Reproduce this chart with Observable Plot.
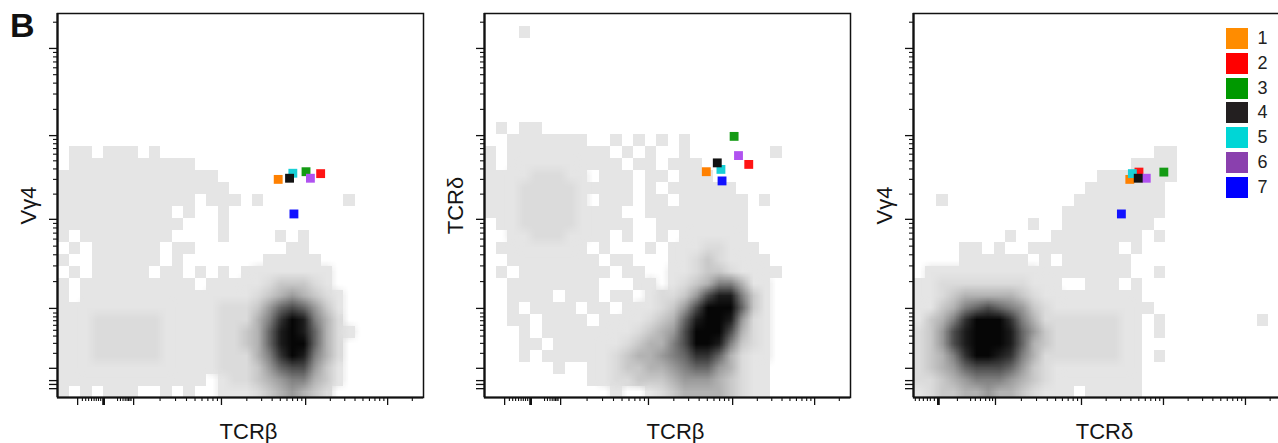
<!DOCTYPE html>
<html><head><meta charset="utf-8">
<script src="https://cdn.jsdelivr.net/npm/d3@7"></script>
<script src="https://cdn.jsdelivr.net/npm/@observablehq/plot@0.6"></script>
<style>
html,body{margin:0;padding:0;background:#fff;overflow:hidden;}
#root{position:relative;width:1278px;height:443px;overflow:hidden;font-family:'Liberation Sans',Arial,Helvetica,sans-serif;}
.panel{position:absolute;top:0;}
#tag{position:absolute;left:10px;top:8px;font-size:34px;font-weight:bold;line-height:34px;color:#111;}
#legend{position:absolute;left:1226px;top:28px;}
.item{display:flex;align-items:center;height:21px;margin-bottom:3.8px;}
.sw{width:21.5px;height:21px;}
.lab{margin-left:10px;font-size:18px;color:#222;line-height:21px;}
</style></head><body><div id="root"><div id="tag">B</div></div>
<script>
// ---- data ----
const panelLetter = "B";
const clusters = ["1","2","3","4","5","6","7"];
const markerColors = ["#ff8000","#ff1414","#149b14","#121212","#18d0d6","#b052f0","#1212ff"];
const legendColors = ["#ff8c00","#ff0000","#009900","#231f20","#00d6d6","#8a40ae","#0000ff"];
const drawOrder = [1,2,3,5,6,7,4];

const xLabels = ["TCRβ","TCRβ","TCRδ"];
const yLabels = ["Vγ4","TCRδ","Vγ4"];

// marker positions in display channels (0-1000) per cluster 1..7
const panel1X = [603, 719, 679, 634, 643, 691, 646];
const panel1Y = [568, 583, 588, 571, 584, 571, 478];
const panel2X = [606, 722, 682, 636, 646, 694, 649];
const panel2Y = [588, 607, 680, 611, 594, 630, 564];
const panel3X = [591, 616, 684, 614, 598, 636, 568];
const panel3Y = [568, 587, 587, 571, 583, 571, 478];

// axis tick positions in display channels
const tcrbMajorTicks = [55, 126, 208, 448, 678, 902];
const tcrbDecades = [208, 448, 678, 902];
const tcrbLowTicks = [68, 77, 85, 93, 100, 106, 112, 118, 164, 172, 179, 185, 190, 194, 198, 201];
const tcrbZero = 126;
const tcrdMajorTicks = [68, 224, 459, 683, 907];
const tcrdDecades = [224, 459, 683, 907];
const tcrdLowTicks = [5, 16, 27, 38, 46, 57, 120, 156, 169, 183, 197, 208, 216];
const tcrdZero = 68;
const yMajorTicks = [23, 34, 44, 76, 232, 464, 682, 909];
const yDecades = [232, 464, 682, 909];
const yLowTicks = [115, 141, 160, 175, 188, 200, 210, 220];

// density grids (32 x 32, top row first); ' ' empty, '.' low ... '9' highest
const levelChars = " .:123456789";
const levelGrays = ["#ffffff","#e5e5e5","#dbdbdb","#c8c8c8","#b2b2b2","#9a9a9a","#808080","#666666","#4c4c4c","#333333","#1c1c1c","#060606"];

const density1 = [
 "","","","","","","","","","","",
 " .. ... " + ".",
 " ......." + "....",
 "........" + "......",
 "........" + ".......",
 "........" + ".... ..." + " .      " + " .",
 "........" + ".. .  . ",
 "........" + "...   . ",
 ". ......" + "..    . " + "   . .  ",
 " . ....." + ". ..    " + "    ..  ",
 ".  ....." + ". .     " + "  ..... ",
 " . ....." + " .. . . " + "........",
 ". ......" + ".... ..." + "..:111:.",
 ". ......" + "........" + ".:12321:" + ".",
 "........" + "......::" + ":1356531" + ".",
 "...:::::" + ":.....::" + ":2479842" + ":",
 "...:::::" + ":.....::" + "12589852" + ":.",
 "...:::::" + ":.....::" + "12589952" + ":",
 "...:::::" + ":.....::" + ":2479842" + ":",
 "........" + "......::" + ":1356631" + ".",
 "........" + "..... .:" + ":1234421" + ".",
 ". . ... " + " . .  .." + ".:12321:"
];

const density2 = [
 "",
 "   .",
 "","","","","","","",
 " . ..",
 "  ......" + ".  . . ." + " .",
 ". ......" + "... . . " + " .      " + " .",
 ". ......" + ".... .. " + "...",
 "....:::." + ". ... .." + " ...",
 "...:::::" + "..... . " + "......",
 "...:::::" + ". ... .." + " ...... " + ".",
 "...:::::" + "....  .." + ".......",
 " ..:::::" + ".....  ." + ".......",
 "  ..:::." + "... .  ." + " ......",
 " ......." + ". .   . " + "...::...",
 "  ......" + ".. ..   " + "..:1:..." + ".",
 " . ....." + "... ..  " + "..:11:.." + "..",
 "  ......" + "..   .. " + ".:12442." + ".",
 "  .... ." + ".. .. .:" + ":1368841" + ".",
 "  . ...." + " .. ...:" + "13699951" + ".",
 "  .. ..." + ". ....:1" + "2589983:" + ".",
 "   . ..." + ".....:12" + "3699962:" + ".",
 "   .. .." + "....:122" + "4699841:" + ".",
 "   . ..." + "...:1223" + "457752:." + ".",
 "      . " + " ..:1122" + "345532:." + ".",
 "        " + " ..::111" + "233321:." + ".",
 "        " + "   .  .:" + "122221:." + "."
];

const density3 = [
 "","","","","","","","","","","",
 "        " + "        " + "     .. ",
 "        " + "        " + "   .... ",
 "        " + "        " + ".......",
 "        " + "       ." + "......",
 "  .     " + "      .." + "......",
 "        " + "     ..." + "......",
 "        " + "  .  ..." + ".....",
 "        " + ".   ...." + ".... .",
 "    .. ." + "  ......" + ".. .",
 "    ...." + ".. . ..." + "...",
 " ......." + "........" + "...  .",
 "..::::::" + "::...  ." + ".. .",
 "..:12222" + "21:....." + "....",
 "..124565" + "431:...." + ".....",
 ".1247999" + "742:::::" + "::.. .  " + "      .",
 ":1368999" + "8531::::" + "::.. .  ",
 ":1368999" + "8521::::" + "::..",
 ":1247998" + "742:::::" + "::.. .",
 ":1235666" + "531:...." + "....",
 "::123444" + "321:...." + "....",
 ".:112232" + "21:... ." + "...."
];

// ---- helpers ----
function gridRows(rows) {
  return Array.from({length: 32}, (_, r) => (rows[r] || "").padEnd(32, " ").slice(0, 32));
}
const lvl = ch => Math.max(0, levelChars.indexOf(ch));
// light layer: empty / low levels, crisp cells
function lightValues(rows) {
  const out = [];
  for (const s of gridRows(rows)) for (const ch of s) {
    const k = lvl(ch);
    out.push(k === 0 ? "#ffffff" : levelGrays[Math.min(k, 2)]);
  }
  return out;
}
// dense layer: higher levels (plus their light neighbours), smoothly upsampled
function denseValues(rows) {
  const g = gridRows(rows).map(s => Array.from(s, lvl));
  const out = [];
  for (let r = 0; r < 32; r++) for (let c = 0; c < 32; c++) {
    const k = g[r][c];
    if (k >= 2) { out.push(levelGrays[k]); continue; }
    let near = false;
    for (let dr = -1; dr <= 1; dr++) for (let dc = -1; dc <= 1; dc++) {
      const rr = r + dr, cc = c + dc;
      if (rr >= 0 && rr < 32 && cc >= 0 && cc < 32 && g[rr][cc] >= 2) near = true;
    }
    out.push(near && k > 0 ? levelGrays[k] : null);
  }
  return out;
}
function minorTicks(decades) {
  const n = decades.length;
  const step = decades[n - 1] - decades[n - 2];
  const out = [];
  decades.forEach((d, i) => {
    const next = i < n - 1 ? decades[i + 1] : d + step;
    for (let k = 2; k <= 9; k++) {
      const v = d + Math.log10(k) * (next - d);
      if (v <= 1000) out.push(v);
    }
  });
  return out;
}
const blank = () => "";
function xAxisMarks(major, decades, low, zero) {
  return [
    Plot.axisX({ticks: minorTicks(decades).concat(low), tickSize: 4, tickFormat: blank, label: null, stroke: "#111", strokeWidth: 1.1}),
    Plot.axisX({ticks: major, tickSize: 8, tickFormat: blank, label: null, stroke: "#111", strokeWidth: 1.3}),
    Plot.axisX({ticks: [zero], tickSize: 8, tickFormat: blank, label: null, stroke: "#111", strokeWidth: 2.8})
  ];
}
function yAxisMarks() {
  return [
    Plot.axisY({ticks: minorTicks(yDecades).concat(yLowTicks), tickSize: 4, tickFormat: blank, label: null, stroke: "#111", strokeWidth: 1.1}),
    Plot.axisY({ticks: yMajorTicks, tickSize: 8, tickFormat: blank, label: null, stroke: "#111", strokeWidth: 1.3})
  ];
}

function panel({density, px, py, xMajor, xDecades, xLow, xZero, xLabel, yLabel}) {
  const order = drawOrder.map(c => c - 1);
  const bounds = {width: 32, height: 32, x1: 0, y1: 1000, x2: 1000, y2: 0};
  return Plot.plot({
    width: 430, height: 443,
    marginLeft: 57, marginRight: 7, marginTop: 13, marginBottom: 46,
    x: {domain: [0, 1000]},
    y: {domain: [0, 1000]},
    color: {type: "identity"},
    style: {background: "transparent", maxWidth: "none", overflow: "visible",
            fontFamily: "'Liberation Sans', Arial, Helvetica, sans-serif"},
    marks: [
      Plot.raster(lightValues(density), {...bounds, fill: d => d, imageRendering: "pixelated"}),
      Plot.raster(denseValues(density), {...bounds, fill: d => d, imageRendering: "auto"}),
      ...xAxisMarks(xMajor, xDecades, xLow, xZero),
      ...yAxisMarks(),
      Plot.frame({stroke: "#111", strokeWidth: 1.5}),
      Plot.ruleX([0], {stroke: "#111", strokeWidth: 2.2}),
      Plot.ruleY([0], {stroke: "#111", strokeWidth: 2.2}),
      Plot.dot(order, {x: i => px[i], y: i => py[i], fill: i => markerColors[i], symbol: "square", r: 5}),
      Plot.text([xLabel], {text: d => d, frameAnchor: "bottom", lineAnchor: "middle", textAnchor: "middle",
        dy: 34, dx: 8, fontSize: 22, fill: "#151515"}),
      Plot.text([yLabel], {text: d => d, frameAnchor: "left", lineAnchor: "middle", textAnchor: "middle",
        rotate: -90, dx: -29, fontSize: 22, fill: "#151515"})
    ]
  });
}

const root = document.getElementById("root");
document.getElementById("tag").textContent = panelLetter;
const specs = [
  {left: 0, density: density1, px: panel1X, py: panel1Y, xMajor: tcrbMajorTicks, xDecades: tcrbDecades, xLow: tcrbLowTicks, xZero: tcrbZero, xLabel: xLabels[0], yLabel: yLabels[0]},
  {left: 427, density: density2, px: panel2X, py: panel2Y, xMajor: tcrbMajorTicks, xDecades: tcrbDecades, xLow: tcrbLowTicks, xZero: tcrbZero, xLabel: xLabels[1], yLabel: yLabels[1]},
  {left: 856, density: density3, px: panel3X, py: panel3Y, xMajor: tcrdMajorTicks, xDecades: tcrdDecades, xLow: tcrdLowTicks, xZero: tcrdZero, xLabel: xLabels[2], yLabel: yLabels[2]}
];
for (const s of specs) {
  const div = document.createElement("div");
  div.className = "panel";
  div.style.left = s.left + "px";
  div.appendChild(panel(s));
  root.appendChild(div);
}

// legend
const legend = document.createElement("div");
legend.id = "legend";
clusters.forEach((c, i) => {
  const item = document.createElement("div");
  item.className = "item";
  const sw = document.createElement("div");
  sw.className = "sw";
  sw.style.background = legendColors[i];
  const lab = document.createElement("span");
  lab.className = "lab";
  lab.textContent = c;
  item.appendChild(sw);
  item.appendChild(lab);
  legend.appendChild(item);
});
root.appendChild(legend);
</script></body></html>
